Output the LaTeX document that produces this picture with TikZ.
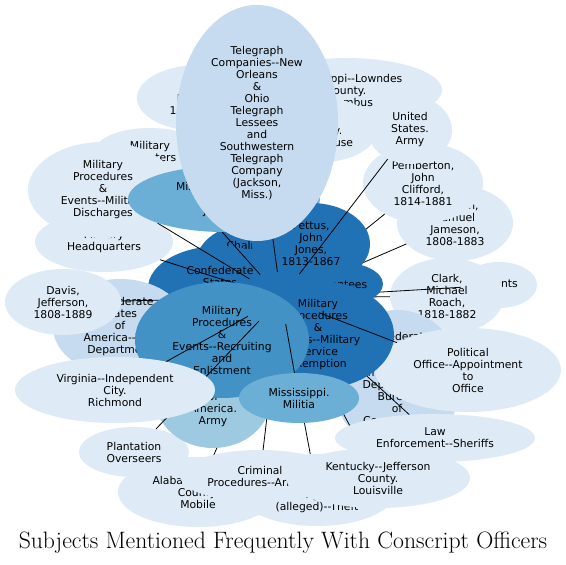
\documentclass[tikz,border=0pt]{standalone}
\usepackage{fontspec}
\usepackage{tikz}
\usetikzlibrary{shapes.geometric,backgrounds}
\newfontfamily\labelfont{DejaVu Sans}[Ligatures=TeXOff]
\definecolor{pale}{HTML}{DEEBF7}
\definecolor{soft}{HTML}{C6DBEF}
\definecolor{mild}{HTML}{9ECAE1}
\definecolor{mid}{HTML}{6BAED6}
\definecolor{strong}{HTML}{4292C6}
\definecolor{deep}{HTML}{2171B5}

\begin{document}
\begin{tikzpicture}[x=1pt, y=-1pt,
  subj/.style={ellipse, inner sep=0pt, align=center, font=\labelfont\fontsize{10.8}{12}\selectfont},
  ell/.style 2 args={minimum width=#1pt, minimum height=#2pt},
  link/.style={draw=black, line width=0.8pt}]
  \begin{scope}[on background layer]
    \fill[white] (0,0) rectangle (566,565);
  \end{scope}
  \useasboundingbox (0,0) rectangle (566,565);

  \node[ellipse, inner sep=0pt, ell={92}{52}] (hub) at (281,298) {};

  \node[subj, fill=pale, ell={124}{66}] (reuben) at (199,98) {Davis,\\Reuben,\\1813-1890};
  \node[subj, fill=pale, ell={192}{64}] (lowndes) at (346,90) {Mississippi--Lowndes\\County.\\Columbus};
  \node[subj, fill=pale, ell={110}{64}] (courthouse) at (322,130) {Hinds\\County.\\Courthouse};

  \node[subj, fill=pale, ell={110}{46}] (deserters) at (150,151) {Military\\Deserters};
  \node[subj, fill=pale, ell={138}{60}] (headq) at (104,242) {Military\\Headquarters};
  \node[subj, fill=pale, ell={150}{96}] (discharges) at (103,190) {Military\\Procedures\\\&\\Events--Military\\Discharges};

  \node[subj, fill=deep, ell={116}{80}] (chalmers) at (254,263) {Chalmers,\\James\\Ronald,\\1831-1898};
  \node[subj, fill=deep, ell={144}{84}] (csa) at (220,288) {Confederate\\States\\of\\America};

  \draw[link] (deserters) -- (hub);
  \draw[link] (discharges) -- (hub);
  \draw[link] (headq) -- (hub);

  \node[subj, fill=mid, ell={192}{66}] (mis) at (224,199) {Mississippi--Hinds\\County.\\Jackson};

  \node[subj, fill=pale, ell={116}{76}] (gholson) at (455,223) {Gholson,\\Samuel\\Jameson,\\1808-1883};
  \node[subj, fill=pale, ell={120}{80}] (pemberton) at (423,183) {Pemberton,\\John\\Clifford,\\1814-1881};
  \draw[link] (gholson) -- (hub);
  \draw[link] (pemberton) -- (hub);

  \node[subj, fill=pale, ell={76}{46}] (agents) at (499,285) {Agents};
  \node[subj, fill=pale, ell={114}{76}] (clark) at (447,296) {Clark,\\Michael\\Roach,\\1818-1882};
  \draw[link] (agents) -- (hub);
  \draw[link] (clark) -- (hub);

  \node[subj, fill=deep, ell={88}{44}] (absentees) at (339,284) {Absentees};
  \node[subj, fill=deep, ell={118}{82}] (pettus) at (311,244) {Pettus,\\John\\Jones,\\1813-1867};

  \node[subj, fill=pale, ell={84}{68}] (usarmy) at (410,130) {United\\States.\\Army};
  \draw[link] (usarmy) -- (hub);

  \node[subj, fill=soft, ell={162}{236}] (tel) at (257,123) {Telegraph\\Companies--New\\Orleans\\\&\\Ohio\\Telegraph\\Lessees\\and\\Southwestern\\Telegraph\\Company\\(Jackson,\\Miss.)};
  \draw[link] (tel) -- (hub);

  \node[subj, fill=soft, ell={134}{96}] (wardept) at (120,327) {Confederate\\States\\of\\America--War\\Department};
  \node[subj, fill=pale, ell={116}{66}] (jdavis) at (63,302) {Davis,\\Jefferson,\\1808-1889};
  \draw[link] (jdavis) -- (hub);

  \node[subj, fill=pale, ell={160}{70}] (alabama) at (198,492) {Alabama--Mobile\\County.\\Mobile};
  \node[subj, fill=pale, ell={110}{50}] (plantation) at (134,452) {Plantation\\Overseers};
  \draw[link] (alabama) -- (hub);

  \node[subj, fill=mild, ell={116}{100}] (csarmy) at (213,398) {Confederate\\States\\of\\America.\\Army};

  \node[subj, fill=soft, ell={130}{140}] (bureau) at (397,380) {Confederate\\States\\of\\America--War\\Department.\\Bureau\\of\\Conscription};
  \node[subj, fill=pale, ell={186}{84}] (political) at (468,370) {Political\\Office--Appointment\\to\\Office};

  \node[subj, fill=pale, ell={160}{72}] (theft) at (317,490) {Crimes\\\&\\Wrongdoing\\(alleged)--Theft};
  \draw[link] (theft) -- (hub);
  \node[subj, fill=pale, ell={160}{52}] (arrests) at (260,476) {Criminal\\Procedures--Arrests};
  \draw[link] (arrests) -- (hub);
  \node[subj, fill=pale, ell={184}{60}] (kentucky) at (378,478) {Kentucky--Jefferson\\County.\\Louisville};
  \draw[link] (kentucky) -- (hub);
  \node[subj, fill=pale, ell={200}{48}] (law) at (435,438) {Law\\Enforcement--Sheriffs};
  \draw[link] (law) -- (hub);

  \node[subj, fill=deep, ell={152}{108}] (exemption) at (318,335) {Military\\Procedures\\\&\\Events--Military\\Service\\Exemption};
  \draw[link] (political) -- (hub);

  \node[subj, fill=strong, ell={174}{116}] (recruiting) at (222,340) {Military\\Procedures\\\&\\Events--Recruiting\\and\\Enlistment};
  \draw[link] (plantation) -- (hub);
  \node[subj, fill=pale, ell={200}{66}] (virginia) at (115,390) {Virginia--Independent\\City.\\Richmond};
  \draw[link] (virginia) -- (hub);

  \node[subj, fill=mid, ell={120}{50}] (militia) at (299,398) {Mississippi.\\Militia};
  \draw[link] (militia) -- (hub);

  \begin{scope}[on background layer]
    \foreach \src in {reuben,lowndes,courthouse,mis,chalmers,csa,pettus,absentees,exemption,recruiting,wardept,csarmy,bureau}
      \draw[link] (\src) -- (hub);
  \end{scope}

  \node[font=\fontsize{23.7}{27}\selectfont] (title) at (283,543) {Subjects Mentioned Frequently With Conscript Officers};
\end{tikzpicture}
\end{document}
